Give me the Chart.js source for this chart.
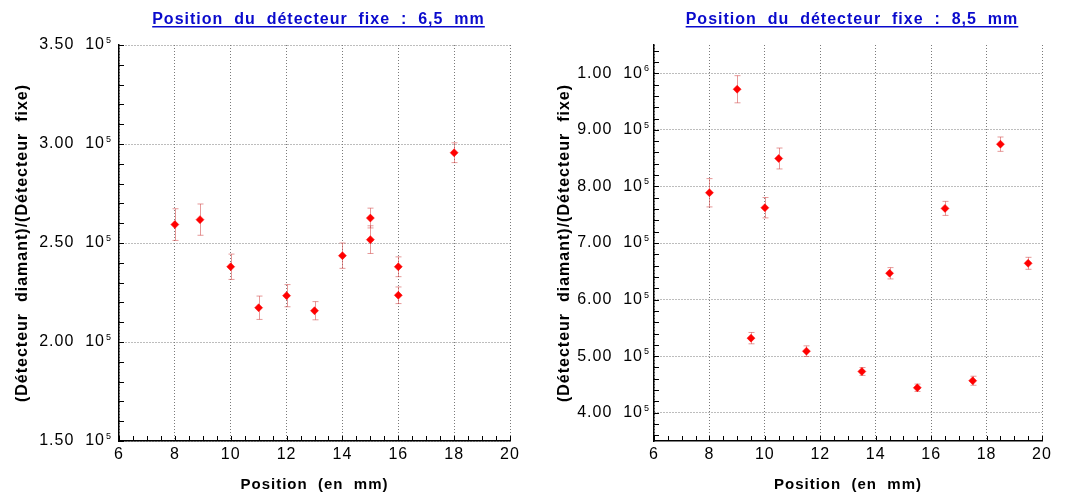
<!DOCTYPE html>
<html><head><meta charset="utf-8">
<script src="https://cdn.jsdelivr.net/npm/chart.js@4/dist/chart.umd.min.js"></script>
<style>
html,body{margin:0;padding:0;background:#fff;}
#wrap{position:relative;width:1065px;height:494px;overflow:hidden;}
.box{position:absolute;top:0;height:494px;}
#b1{left:0;width:532px;}
#b2{left:532px;width:533px;}
</style></head><body>
<div id="wrap"><div class="box" id="b1"><canvas id="c1"></canvas></div><div class="box" id="b2"><canvas id="c2"></canvas></div></div>
<script>
// ---- text ----
const titleLeft = 'Position  du  détecteur  fixe  :  6,5  mm';
const titleRight = 'Position  du  détecteur  fixe  :  8,5  mm';
const xTitle = 'Position  (en  mm)';
const yTitle = '(Détecteur  diamant)/(Détecteur  fixe)';

// ---- ticks ----
const xTicks = [6, 8, 10, 12, 14, 16, 18, 20];
const leftYTicks = [150000, 200000, 250000, 300000, 350000];
const rightYTicks = [400000, 500000, 600000, 700000, 800000, 900000, 1000000];

// ---- data: left chart (fixed detector at 6,5 mm) ----
const leftX = [8, 8.9, 10, 11, 12, 13, 14, 15, 15, 16, 16, 18];
const leftY = [259300, 261800, 238000, 217300, 223400, 215800, 243600, 262600, 251700, 238000, 223600, 295600];
const leftErr = [8000, 7900, 6400, 5900, 5600, 4600, 6400, 5000, 7000, 5000, 4200, 5000];

// ---- data: right chart (fixed detector at 8,5 mm) ----
const rightX = [8, 9, 9.5, 10, 10.5, 11.5, 13.5, 14.5, 15.5, 16.5, 17.5, 18.5, 19.5];
const rightY = [788800, 971800, 531800, 762400, 849400, 508800, 472900, 646500, 444100, 761200, 456500, 874700, 664100];
const rightErr = [25000, 24000, 10000, 18000, 18500, 9400, 7000, 10000, 6500, 12400, 8000, 12700, 10600];

const FONT = '"Liberation Sans", Arial, Helvetica, sans-serif';
Chart.defaults.font.family = FONT;

function expOf(v) { return Math.floor(Math.log10(v) + 1e-9); }
function mantLabel(v) {
  const e = expOf(v);
  return (v / Math.pow(10, e)).toFixed(2) + '  10';
}

const deco = {
  id: 'deco',
  beforeDraw(chart) { chart.ctx.letterSpacing = '1px'; },
  beforeDatasetsDraw(chart) {
    const ctx = chart.ctx, xs = chart.scales.x, ys = chart.scales.y;
    const ds = chart.data.datasets[0];
    ctx.save();
    ctx.strokeStyle = 'rgba(210,70,70,0.55)';
    ctx.lineWidth = 1;
    ds.data.forEach((p, i) => {
      const e = ds.errorBars[i];
      const px = Math.round(xs.getPixelForValue(p.x)) + 0.5;
      const y1 = ys.getPixelForValue(p.y - e), y2 = ys.getPixelForValue(p.y + e);
      ctx.beginPath();
      ctx.moveTo(px, y1); ctx.lineTo(px, y2);
      ctx.moveTo(px - 3, y1); ctx.lineTo(px + 3, y1);
      ctx.moveTo(px - 3, y2); ctx.lineTo(px + 3, y2);
      ctx.stroke();
    });
    ctx.restore();
  },
  afterDraw(chart, args, o) {
    const ctx = chart.ctx, xs = chart.scales.x, ys = chart.scales.y, ca = chart.chartArea;
    ctx.save();
    ctx.strokeStyle = '#000';
    ctx.lineWidth = 1;
    ctx.beginPath();
    // minor y ticks, inward
    const ystep = o.minorY;
    let k0 = Math.ceil(ys.min / ystep - 1e-9), k1 = Math.floor(ys.max / ystep + 1e-9);
    for (let k = k0; k <= k1; k++) {
      const py = Math.round(ys.getPixelForValue(k * ystep)) + 0.5;
      ctx.moveTo(ca.left, py); ctx.lineTo(ca.left + 5, py);
    }
    // minor x ticks, inward
    const xstep = 0.5;
    k0 = Math.ceil(xs.min / xstep - 1e-9); k1 = Math.floor(xs.max / xstep + 1e-9);
    for (let k = k0; k <= k1; k++) {
      const px = Math.round(xs.getPixelForValue(k * xstep)) + 0.5;
      ctx.moveTo(px, ca.bottom); ctx.lineTo(px, ca.bottom - 5);
    }
    ctx.stroke();
    // exponents of the y tick labels (small superscript)
    ctx.font = '9px ' + FONT;
    ctx.letterSpacing = '0px';
    ctx.fillStyle = '#000';
    ctx.textAlign = 'left';
    ctx.textBaseline = 'alphabetic';
    const padY = ys.options.ticks.padding;
    ys.ticks.forEach(t => {
      const py = ys.getPixelForValue(t.value);
      ctx.fillText(String(expOf(t.value)), ca.left - padY + 1, py - 2);
    });
    // title, underlined
    ctx.letterSpacing = '1px';
    ctx.font = 'bold 16px ' + FONT;
    ctx.fillStyle = '#0a0acc';
    ctx.textAlign = 'center';
    const cx = (ca.left + ca.right) / 2 + 4;
    ctx.fillText(o.title, cx, 24);
    const w = ctx.measureText(o.title).width;
    ctx.fillRect(cx - w / 2, 26, w, 1.5);
    ctx.restore();
  }
};

function makeChart(id, xs, ys, errs, cfg) {
  return new Chart(document.getElementById(id), {
    type: 'scatter',
    data: { datasets: [{
      data: xs.map((x, i) => ({ x: x, y: ys[i] })),
      errorBars: errs,
      pointStyle: 'rectRot', pointRadius: 4, pointHoverRadius: 4,
      backgroundColor: '#ff0000', borderColor: '#ff0000', borderWidth: 0.5, showLine: false
    }] },
    options: {
      responsive: true, maintainAspectRatio: false, animation: false, events: [],
      layout: { padding: { left: 0, right: cfg.padRight, top: 45, bottom: 0 } },
      plugins: { legend: { display: false }, tooltip: { enabled: false },
                 deco: { title: cfg.title, minorY: cfg.minorY } },
      scales: {
        x: {
          type: 'linear', min: 6, max: 20,
          afterBuildTicks: s => { s.ticks = xTicks.map(v => ({ value: v })); },
          afterFit: s => { s.height = 53; },
          grid: { color: '#7a7a7a', lineWidth: 1, drawTicks: false },
          border: { display: true, color: '#000', width: 1.5, dash: [1, 2] },
          ticks: { font: { size: 16 }, color: '#000', padding: 4, maxRotation: 0, autoSkip: false,
                   callback: v => String(v) },
          title: { display: true, text: xTitle, font: { size: 15, weight: 'bold' }, color: '#000',
                   padding: { top: 0, bottom: 0 } }
        },
        y: {
          type: 'linear', min: cfg.yMin, max: cfg.yMax,
          afterBuildTicks: s => { s.ticks = cfg.yTicks.map(v => ({ value: v })); },
          afterFit: s => { s.width = cfg.yWidth; },
          grid: { color: '#7a7a7a', lineWidth: 1, drawTicks: false },
          border: { display: true, color: '#000', width: 1.5, dash: [1, 2] },
          ticks: { font: { size: 16 }, color: '#000', padding: cfg.tickPad, autoSkip: false,
                   callback: v => mantLabel(v) },
          title: { display: true, text: yTitle, font: { size: 16, weight: 'bold' }, color: '#000',
                   padding: { top: cfg.titlePad, bottom: 0 } }
        }
      }
    },
    plugins: [deco]
  });
}

makeChart('c1', leftX, leftY, leftErr, {
  title: titleLeft, yMin: 150000, yMax: 350000, yTicks: leftYTicks, minorY: 10000,
  yWidth: 119, tickPad: 14, titlePad: 13, padRight: 22
});
makeChart('c2', rightX, rightY, rightErr, {
  title: titleRight, yMin: 350000, yMax: 1050000, yTicks: rightYTicks, minorY: 20000,
  yWidth: 122, tickPad: 11, titlePad: 23, padRight: 23
});
</script>
</body></html>
